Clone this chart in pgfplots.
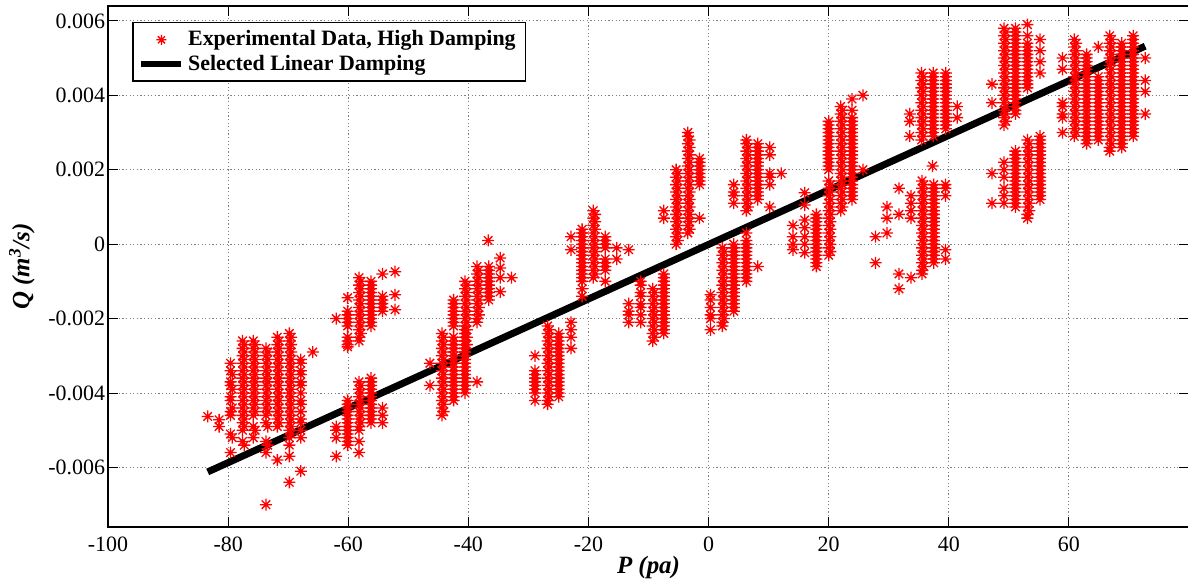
\documentclass[border=0pt]{standalone}
\usepackage{pgfplots}
\pgfplotsset{compat=1.18}
\usepackage{fontspec}
\setmainfont{Liberation Serif}
\pgfdeclareplotmark{mstar}{%
  \pgfpathmoveto{\pgfqpoint{-\pgfplotmarksize}{0pt}}\pgfpathlineto{\pgfqpoint{\pgfplotmarksize}{0pt}}%
  \pgfpathmoveto{\pgfqpoint{0pt}{-\pgfplotmarksize}}\pgfpathlineto{\pgfqpoint{0pt}{\pgfplotmarksize}}%
  \pgfpathmoveto{\pgfqpoint{-0.7071\pgfplotmarksize}{-0.7071\pgfplotmarksize}}\pgfpathlineto{\pgfqpoint{0.7071\pgfplotmarksize}{0.7071\pgfplotmarksize}}%
  \pgfpathmoveto{\pgfqpoint{-0.7071\pgfplotmarksize}{0.7071\pgfplotmarksize}}\pgfpathlineto{\pgfqpoint{0.7071\pgfplotmarksize}{-0.7071\pgfplotmarksize}}%
  \pgfusepathqstroke}
\begin{document}
\begin{tikzpicture}
\begin{axis}[name=ax, scale only axis, width=540.5bp, height=260.5bp,
  xmin=-100, xmax=80, ymin=-0.0076, ymax=0.0064,
  xtick={-100,-80,-60,-40,-20,0,20,40,60},
  xticklabels={-100,-80,-60,-40,-20,0,20,40,60},
  ytick={-0.006,-0.004,-0.002,0,0.002,0.004,0.006},
  yticklabels={-0.006,-0.004,-0.002,0,0.002,0.004,0.006},
  scaled y ticks=false, scaled x ticks=false,
  tick align=inside, major tick length=5bp,
  tick style={black, line width=0.5bp},
  grid=major, grid style={dash pattern=on 0.6bp off 1.2bp, black!50, line width=0.5bp},
  axis line style={line width=1bp},
  ticklabel style={font=\fontsize{11}{13}\selectfont},
  xticklabel style={yshift=-1.5bp},
  yticklabel style={xshift=2bp},
  xlabel={\textbf{\textit{P (pa)}}},
  ylabel={\textbf{\textit{Q (m\textsuperscript{3}/s)}}},
  every axis x label/.style={at={(axis description cs:0.5,-0.0768)}, anchor=center, font=\fontsize{12.5}{14}\selectfont},
  every axis y label/.style={at={(axis description cs:-0.0796,0.5)}, rotate=90, anchor=center, font=\fontsize{12.5}{14}\selectfont},
  legend cell align=left,
  legend style={at={(axis description cs:0.0222,0.9693)}, anchor=north west, draw=black, line width=0.75bp,
    font=\bfseries\fontsize{11}{13}\selectfont, row sep=-1bp, inner xsep=3bp, inner ysep=2bp},
]
\addplot[only marks, mark=mstar, mark size=3bp, red, line width=0.65bp,
  legend image code/.code={\draw[mark repeat=2,mark phase=2,mark size=2.5bp] plot coordinates {(0bp,0bp) (10bp,0bp) (20bp,0bp)};}]
coordinates {
(-83.4,-0.00463) (-81.5,-0.00472) (-81.5,-0.0049) (-65.9,-0.0029)
(-79.6,-0.0032) (-79.6,-0.0034) (-79.3,-0.0035) (-79.6,-0.0037) (-79.6,-0.0038) (-79.3,-0.0039) (-79.6,-0.0041) (-79.6,-0.0042) (-79.3,-0.0044) (-79.6,-0.0045) (-79.6,-0.0046) (-79.6,-0.0051) (-79.3,-0.0052) (-79.6,-0.0056)
(-77.6,-0.0026) (-77.3,-0.0027) (-77.6,-0.0028) (-77.3,-0.0029) (-77.6,-0.0030) (-77.3,-0.0031) (-77.6,-0.0032) (-77.3,-0.0033) (-77.6,-0.0034) (-77.3,-0.0035) (-77.6,-0.0036) (-77.3,-0.0037) (-77.6,-0.0038) (-77.3,-0.0039) (-77.6,-0.0040) (-77.3,-0.0041) (-77.6,-0.0042) (-77.3,-0.0043) (-77.6,-0.0044) (-77.3,-0.0045) (-77.6,-0.0046) (-77.3,-0.0047) (-77.6,-0.0048) (-77.3,-0.0049) (-77.6,-0.0050) (-77.6,-0.0053) (-77.3,-0.0054)
(-75.8,-0.0026) (-75.5,-0.0027) (-75.8,-0.0028) (-75.5,-0.0029) (-75.8,-0.0030) (-75.5,-0.0031) (-75.8,-0.0032) (-75.5,-0.0033) (-75.8,-0.0034) (-75.5,-0.0035) (-75.8,-0.0036) (-75.5,-0.0037) (-75.8,-0.0038) (-75.5,-0.0039) (-75.8,-0.0040) (-75.5,-0.0041) (-75.8,-0.0042) (-75.5,-0.0043) (-75.8,-0.0044) (-75.5,-0.0045) (-75.8,-0.0046) (-75.8,-0.0049) (-75.5,-0.0050) (-75.8,-0.0052)
(-73.7,-0.0028) (-73.4,-0.0029) (-73.7,-0.0030) (-73.4,-0.0031) (-73.7,-0.0032) (-73.4,-0.0033) (-73.7,-0.0034) (-73.4,-0.0035) (-73.7,-0.0036) (-73.4,-0.0037) (-73.7,-0.0038) (-73.4,-0.0039) (-73.7,-0.0040) (-73.4,-0.0041) (-73.7,-0.0042) (-73.4,-0.0043) (-73.7,-0.0044) (-73.4,-0.0045) (-73.7,-0.0046) (-73.7,-0.0048) (-73.4,-0.0049) (-73.7,-0.0053) (-73.4,-0.0054) (-73.7,-0.0056) (-73.7,-0.0070)
(-71.8,-0.0025) (-71.5,-0.0026) (-71.8,-0.0027) (-71.5,-0.0028) (-71.8,-0.0029) (-71.5,-0.0030) (-71.8,-0.0031) (-71.5,-0.0032) (-71.8,-0.0033) (-71.5,-0.0034) (-71.8,-0.0035) (-71.5,-0.0036) (-71.8,-0.0037) (-71.5,-0.0038) (-71.8,-0.0039) (-71.5,-0.0040) (-71.8,-0.0041) (-71.5,-0.0042) (-71.8,-0.0043) (-71.5,-0.0044) (-71.8,-0.0045) (-71.5,-0.0046) (-71.8,-0.0047) (-71.5,-0.0048) (-71.8,-0.0049) (-71.8,-0.0058)
(-69.8,-0.0024) (-69.5,-0.0025) (-69.8,-0.0026) (-69.5,-0.0027) (-69.8,-0.0028) (-69.5,-0.0029) (-69.8,-0.0030) (-69.5,-0.0031) (-69.8,-0.0032) (-69.5,-0.0033) (-69.8,-0.0034) (-69.5,-0.0035) (-69.8,-0.0036) (-69.5,-0.0037) (-69.8,-0.0038) (-69.5,-0.0039) (-69.8,-0.0040) (-69.5,-0.0041) (-69.8,-0.0042) (-69.5,-0.0043) (-69.8,-0.0044) (-69.5,-0.0045) (-69.8,-0.0046) (-69.5,-0.0047) (-69.8,-0.0048) (-69.5,-0.0049) (-69.8,-0.0050) (-69.5,-0.0051) (-69.8,-0.0052) (-69.8,-0.0054) (-69.8,-0.0057) (-69.8,-0.0064)
(-67.9,-0.0031) (-67.9,-0.0032) (-67.9,-0.0034) (-67.9,-0.0035) (-67.9,-0.0037) (-67.9,-0.0038) (-67.9,-0.0040) (-67.9,-0.0042) (-67.9,-0.0043) (-67.9,-0.0045) (-67.9,-0.0047) (-67.9,-0.0048) (-67.9,-0.0050) (-67.9,-0.0052) (-67.9,-0.0061)
(-62.0,-0.0020) (-60.1,-0.00144) (-60.1,-0.0018) (-60.1,-0.0019) (-60.1,-0.0020) (-60.1,-0.0021) (-60.1,-0.0022) (-60.1,-0.0025) (-60.1,-0.0026) (-60.1,-0.0027) (-60.1,-0.00276)
(-58.2,-0.0009) (-57.9,-0.0010) (-58.2,-0.0011) (-57.9,-0.0012) (-58.2,-0.0013) (-57.9,-0.0014) (-58.2,-0.0015) (-57.9,-0.0016) (-58.2,-0.0017) (-57.9,-0.0018) (-58.2,-0.0019) (-57.9,-0.0020) (-58.2,-0.0021) (-57.9,-0.0022) (-58.2,-0.0023) (-57.9,-0.0024) (-58.2,-0.0025) (-58.2,-0.0026)
(-56.2,-0.0010) (-56.2,-0.0011) (-56.2,-0.0012) (-56.2,-0.0013) (-56.2,-0.0014) (-56.2,-0.0015) (-56.2,-0.0016) (-56.2,-0.0017) (-56.2,-0.0018) (-56.2,-0.0019) (-56.2,-0.0020) (-56.2,-0.0021) (-56.2,-0.0022)
(-54.3,-0.0008) (-54.3,-0.0014) (-54.3,-0.0015) (-54.3,-0.0016) (-54.3,-0.0017) (-54.3,-0.0018) (-52.2,-0.00074) (-52.2,-0.00136) (-52.2,-0.00176)
(-62.0,-0.0049) (-62.0,-0.0050) (-62.0,-0.0052) (-62.0,-0.0057)
(-60.1,-0.0042) (-60.1,-0.0043) (-60.1,-0.0044) (-60.1,-0.0045) (-60.1,-0.0046) (-60.1,-0.0047) (-60.1,-0.0048) (-60.1,-0.0049) (-60.1,-0.0050) (-60.1,-0.0051) (-60.1,-0.0052) (-60.1,-0.0053) (-60.1,-0.0054)
(-58.2,-0.0037) (-57.9,-0.0038) (-58.2,-0.0039) (-57.9,-0.0040) (-58.2,-0.0041) (-57.9,-0.0042) (-58.2,-0.0043) (-57.9,-0.0044) (-58.2,-0.0045) (-57.9,-0.0046) (-58.2,-0.0047) (-57.9,-0.0048) (-58.2,-0.0049) (-58.2,-0.0050) (-58.2,-0.0053) (-58.2,-0.0056)
(-56.2,-0.0036) (-56.2,-0.0037) (-56.2,-0.0038) (-56.2,-0.0039) (-56.2,-0.0040) (-56.2,-0.0041) (-56.2,-0.0042) (-56.2,-0.0043) (-56.2,-0.0044) (-56.2,-0.0045) (-56.2,-0.0046) (-56.2,-0.0047) (-56.2,-0.0048)
(-54.3,-0.0044) (-54.3,-0.0046) (-54.3,-0.0048)
(-42.45,-0.0015) (-42.45,-0.0016) (-42.45,-0.0017) (-42.45,-0.0018) (-42.45,-0.0019) (-42.45,-0.0020) (-42.45,-0.0021) (-42.45,-0.0022)
(-40.55,-0.0010) (-40.25,-0.0011) (-40.55,-0.0012) (-40.25,-0.0013) (-40.55,-0.0014) (-40.25,-0.0015) (-40.55,-0.0016) (-40.25,-0.0017) (-40.55,-0.0018) (-40.25,-0.0019) (-40.55,-0.0020) (-40.25,-0.0021) (-40.55,-0.0022) (-40.25,-0.0023) (-40.55,-0.0024) (-40.25,-0.0025) (-40.55,-0.0026) (-40.25,-0.0027) (-40.55,-0.0028) (-40.55,-0.0029)
(-38.55,-0.0006) (-38.25,-0.0007) (-38.55,-0.0008) (-38.25,-0.0009) (-38.55,-0.0010) (-38.25,-0.0011) (-38.55,-0.0012) (-38.25,-0.0013) (-38.55,-0.0014) (-38.25,-0.0015) (-38.55,-0.0016) (-38.25,-0.0017) (-38.55,-0.0018) (-38.25,-0.0019) (-38.55,-0.0020) (-38.55,-0.0021)
(-36.6,-0.0006) (-36.6,-0.0007) (-36.6,-0.0008) (-36.6,-0.0009) (-36.6,-0.0010) (-36.6,-0.0011) (-36.6,-0.0012) (-36.6,-0.0013) (-36.6,-0.0014) (-36.6,-0.0015) (-36.7,0.0001)
(-34.7,-0.00037) (-34.7,-0.00064) (-34.7,-0.0009) (-34.7,-0.00128) (-32.8,-0.0009)
(-46.4,-0.0032) (-46.4,-0.0038)
(-44.4,-0.0024) (-44.1,-0.0025) (-44.4,-0.0026) (-44.1,-0.0027) (-44.4,-0.0028) (-44.1,-0.0029) (-44.4,-0.0030) (-44.1,-0.0031) (-44.4,-0.0032) (-44.1,-0.0033) (-44.4,-0.0034) (-44.1,-0.0035) (-44.4,-0.0036) (-44.1,-0.0037) (-44.4,-0.0038) (-44.1,-0.0039) (-44.4,-0.0040) (-44.1,-0.0041) (-44.4,-0.0042) (-44.1,-0.0043) (-44.4,-0.0044) (-44.1,-0.0045) (-44.4,-0.0046)
(-42.45,-0.0025) (-42.45,-0.0026) (-42.45,-0.0027) (-42.45,-0.0028) (-42.45,-0.0029) (-42.45,-0.0030) (-42.45,-0.0031) (-42.45,-0.0032) (-42.45,-0.0033) (-42.45,-0.0034) (-42.45,-0.0035) (-42.45,-0.0036) (-42.45,-0.0037) (-42.45,-0.0038) (-42.45,-0.0039) (-42.45,-0.0040) (-42.45,-0.0041) (-42.45,-0.0042)
(-40.55,-0.0023) (-40.55,-0.0024) (-40.55,-0.0025) (-40.55,-0.0026) (-40.55,-0.0027) (-40.55,-0.0028) (-40.55,-0.0029) (-40.55,-0.0030) (-40.55,-0.0031) (-40.55,-0.0032) (-40.55,-0.0033) (-40.55,-0.0034) (-40.55,-0.0035) (-40.55,-0.0036) (-40.55,-0.0037) (-40.55,-0.0038) (-40.55,-0.0039) (-40.55,-0.0040)
(-38.55,-0.0037)
(-28.9,-0.0030) (-28.9,-0.0034) (-28.9,-0.0035) (-28.9,-0.0036) (-28.9,-0.0037) (-28.9,-0.0038) (-28.9,-0.0039) (-28.9,-0.0040) (-28.9,-0.0042)
(-26.8,-0.0022) (-26.5,-0.0023) (-26.8,-0.0024) (-26.5,-0.0025) (-26.8,-0.0026) (-26.5,-0.0027) (-26.8,-0.0028) (-26.5,-0.0029) (-26.8,-0.0030) (-26.5,-0.0031) (-26.8,-0.0032) (-26.5,-0.0033) (-26.8,-0.0034) (-26.5,-0.0035) (-26.8,-0.0036) (-26.5,-0.0037) (-26.8,-0.0038) (-26.5,-0.0039) (-26.8,-0.0040) (-26.5,-0.0041) (-26.8,-0.0042) (-26.8,-0.0043)
(-24.95,-0.0024) (-24.95,-0.0025) (-24.95,-0.0026) (-24.95,-0.0027) (-24.95,-0.0028) (-24.95,-0.0029) (-24.95,-0.0030) (-24.95,-0.0031) (-24.95,-0.0032) (-24.95,-0.0033) (-24.95,-0.0034) (-24.95,-0.0035) (-24.95,-0.0036) (-24.95,-0.0037) (-24.95,-0.0038) (-24.95,-0.0039) (-24.95,-0.0040) (-24.95,-0.0041)
(-22.9,-0.0021) (-22.9,-0.0023) (-22.9,-0.0025) (-22.9,-0.0028)
(-22.9,0.0002) (-22.9,-0.00015)
(-21.05,0.0004) (-21.05,0.0003) (-21.05,0.0002) (-21.05,0.0001) (-21.05,0.0000) (-21.05,-0.0001) (-21.05,-0.0002) (-21.05,-0.0003) (-21.05,-0.0004) (-21.05,-0.0005) (-21.05,-0.0006) (-21.05,-0.0007) (-21.05,-0.0008) (-21.05,-0.0009) (-21.05,-0.0010) (-21.05,-0.0012) (-21.05,-0.0014)
(-19.2,0.0009) (-18.9,0.0008) (-19.2,0.0007) (-18.9,0.0006) (-19.2,0.0005) (-18.9,0.0004) (-19.2,0.0003) (-18.9,0.0002) (-19.2,0.0001) (-18.9,0.0000) (-19.2,-0.0001) (-18.9,-0.0002) (-19.2,-0.0003) (-18.9,-0.0004) (-19.2,-0.0005) (-18.9,-0.0006) (-19.2,-0.0007) (-18.9,-0.0008) (-19.2,-0.0009)
(-17.2,0.0002) (-17.2,0.0001) (-17.2,0.0000) (-17.2,-0.0001) (-17.2,-0.0004) (-17.2,-0.0005) (-17.2,-0.0006) (-17.2,-0.0007) (-17.2,-0.0010)
(-15.3,-0.0001) (-15.3,-0.0004) (-13.3,-0.00015)
(-13.3,-0.0016) (-13.3,-0.0018) (-13.3,-0.0019) (-13.3,-0.0021)
(-11.3,-0.0010) (-11.3,-0.0011) (-11.3,-0.0013) (-11.3,-0.0014) (-11.3,-0.0016) (-11.3,-0.0017) (-11.3,-0.0019) (-11.3,-0.0021)
(-9.3,-0.0012) (-9.0,-0.0013) (-9.3,-0.0014) (-9.0,-0.0015) (-9.3,-0.0016) (-9.0,-0.0017) (-9.3,-0.0018) (-9.0,-0.0019) (-9.3,-0.0020) (-9.0,-0.0021) (-9.3,-0.0022) (-9.0,-0.0023) (-9.3,-0.0024) (-9.0,-0.0025) (-9.3,-0.0026)
(-7.45,-0.0008) (-7.45,-0.0009) (-7.45,-0.0010) (-7.45,-0.0011) (-7.45,-0.0012) (-7.45,-0.0013) (-7.45,-0.0014) (-7.45,-0.0015) (-7.45,-0.0016) (-7.45,-0.0017) (-7.45,-0.0018) (-7.45,-0.0019) (-7.45,-0.0020) (-7.45,-0.0021) (-7.45,-0.0022) (-7.45,-0.0023) (-7.45,-0.0024)
(-7.45,0.0007) (-7.45,0.0009)
(-5.4,0.0000) (-5.1,0.0001) (-5.4,0.0002) (-5.1,0.0003) (-5.4,0.0004) (-5.1,0.0005) (-5.4,0.0006) (-5.1,0.0007) (-5.4,0.0008) (-5.1,0.0009) (-5.4,0.0010) (-5.1,0.0011) (-5.4,0.0012) (-5.1,0.0013) (-5.4,0.0014) (-5.1,0.0015) (-5.4,0.0016) (-5.1,0.0017) (-5.4,0.0018) (-5.1,0.0019) (-5.4,0.0020)
(-3.45,0.0003) (-3.15,0.0004) (-3.45,0.0005) (-3.15,0.0006) (-3.45,0.0007) (-3.15,0.0008) (-3.45,0.0009) (-3.15,0.0010) (-3.45,0.0011) (-3.15,0.0012) (-3.45,0.0013) (-3.15,0.0014) (-3.45,0.0015) (-3.15,0.0016) (-3.45,0.0017) (-3.15,0.0018) (-3.45,0.0019) (-3.15,0.0020) (-3.45,0.0021) (-3.15,0.0022) (-3.45,0.0023) (-3.15,0.0024) (-3.45,0.0025) (-3.15,0.0026) (-3.45,0.0027) (-3.15,0.0028) (-3.45,0.0029) (-3.45,0.0030)
(-1.5,0.0016) (-1.5,0.0017) (-1.5,0.0018) (-1.5,0.0019) (-1.5,0.0020) (-1.5,0.0021) (-1.5,0.0022) (-1.5,0.0023) (-1.5,0.0007)
(0.33,-0.00136) (0.33,-0.0015) (0.33,-0.0017) (0.33,-0.0019) (0.33,-0.0020) (0.33,-0.0023)
(2.3,-0.0001) (2.6,-0.0002) (2.3,-0.0003) (2.6,-0.0004) (2.3,-0.0005) (2.6,-0.0006) (2.3,-0.0007) (2.6,-0.0008) (2.3,-0.0009) (2.6,-0.0010) (2.3,-0.0011) (2.6,-0.0012) (2.3,-0.0013) (2.6,-0.0014) (2.3,-0.0015) (2.6,-0.0016) (2.3,-0.0017) (2.6,-0.0018) (2.3,-0.0019) (2.6,-0.0020) (2.3,-0.0021) (2.3,-0.0022)
(4.2,0.0000) (4.2,-0.0001) (4.2,-0.0002) (4.2,-0.0003) (4.2,-0.0004) (4.2,-0.0005) (4.2,-0.0006) (4.2,-0.0007) (4.2,-0.0008) (4.2,-0.0009) (4.2,-0.0010) (4.2,-0.0011) (4.2,-0.0012) (4.2,-0.0013) (4.2,-0.0014) (4.2,-0.0015) (4.2,-0.0016) (4.2,-0.0017) (4.2,-0.0018)
(6.3,0.0003) (6.3,0.0001) (6.3,0.0000) (6.3,-0.0001) (6.3,-0.0002) (6.3,-0.0003) (6.3,-0.0004) (6.3,-0.0005) (6.3,-0.0006) (6.3,-0.0007) (6.3,-0.0008) (6.3,-0.0009) (6.3,-0.0010)
(8.2,-0.0006)
(4.2,0.0011) (4.2,0.0013) (4.2,0.0014) (4.2,0.0016)
(6.3,0.0009) (6.6,0.0010) (6.3,0.0011) (6.6,0.0012) (6.3,0.0013) (6.6,0.0014) (6.3,0.0015) (6.6,0.0016) (6.3,0.0017) (6.6,0.0018) (6.3,0.0019) (6.6,0.0020) (6.3,0.0021) (6.6,0.0022) (6.3,0.0023) (6.6,0.0024) (6.3,0.0025) (6.6,0.0026) (6.3,0.0027) (6.3,0.0028)
(8.2,0.0012) (8.2,0.0013) (8.2,0.0014) (8.2,0.0015) (8.2,0.0016) (8.2,0.0017) (8.2,0.0018) (8.2,0.0019) (8.2,0.0020) (8.2,0.0021) (8.2,0.0022) (8.2,0.0023) (8.2,0.0024) (8.2,0.0025) (8.2,0.0026) (8.2,0.0027)
(10.2,0.0010) (10.2,0.0016) (10.2,0.0018) (10.2,0.0019) (10.2,0.0024) (10.2,0.0026) (12.1,0.0019)
(14.05,0.0005) (14.05,0.0002) (14.05,0.0000) (14.05,-0.00015)
(16.0,0.00138) (16.0,0.00105) (16.0,0.00065) (16.0,0.00044) (16.0,0.0002) (16.0,0.0000) (16.0,-0.00023)
(17.95,0.0008) (17.95,0.0007) (17.95,0.0006) (17.95,0.0005) (17.95,0.0004) (17.95,0.0003) (17.95,0.0002) (17.95,0.0001) (17.95,0.0000) (17.95,-0.0001) (17.95,-0.0002) (17.95,-0.0003) (17.95,-0.0004) (17.95,-0.0005) (17.95,-0.0006)
(20.0,0.0017) (20.3,0.0016) (20.0,0.0015) (20.3,0.0014) (20.0,0.0013) (20.3,0.0012) (20.0,0.0011) (20.3,0.0010) (20.0,0.0009) (20.3,0.0008) (20.0,0.0007) (20.3,0.0006) (20.0,0.0005) (20.3,0.0004) (20.0,0.0003) (20.3,0.0002) (20.0,0.0001) (20.3,0.0000) (20.0,-0.0001) (20.3,-0.0002) (20.0,-0.0003)
(20.0,0.0020) (20.0,0.0021) (20.0,0.0022) (20.0,0.0023) (20.0,0.0024) (20.0,0.0025) (20.0,0.0026) (20.0,0.0027) (20.0,0.0028) (20.0,0.0029) (20.0,0.0030) (20.0,0.0031) (20.0,0.0032) (20.0,0.0033)
(22.0,0.0009) (22.3,0.0010) (22.0,0.0011) (22.3,0.0012) (22.0,0.0013) (22.3,0.0014) (22.0,0.0015) (22.3,0.0016) (22.0,0.0017) (22.3,0.0018) (22.0,0.0019) (22.3,0.0020) (22.0,0.0021) (22.3,0.0022) (22.0,0.0023) (22.3,0.0024) (22.0,0.0025) (22.3,0.0026) (22.0,0.0027) (22.3,0.0028) (22.0,0.0029) (22.3,0.0030) (22.0,0.0031) (22.3,0.0032) (22.0,0.0033) (22.3,0.0034) (22.0,0.0035) (22.3,0.0036) (22.0,0.0037)
(23.9,0.0012) (23.9,0.0013) (23.9,0.0014) (23.9,0.0015) (23.9,0.0016) (23.9,0.0017) (23.9,0.0018) (23.9,0.0019) (23.9,0.0020) (23.9,0.0021) (23.9,0.0022) (23.9,0.0023) (23.9,0.0024) (23.9,0.0025) (23.9,0.0026) (23.9,0.0027) (23.9,0.0028) (23.9,0.0029) (23.9,0.0030) (23.9,0.0031) (23.9,0.0032) (23.9,0.0033) (23.9,0.0034) (23.9,0.0036) (23.9,0.0039)
(25.7,0.0040) (25.7,0.0020)
(27.8,0.0002) (27.8,-0.0005) (29.7,0.0010) (29.7,0.0007) (29.7,0.0003)
(31.7,0.0015) (31.7,0.0008) (31.7,-0.0008) (31.7,-0.0012)
(33.7,0.0013) (33.7,0.0011) (33.7,0.0009) (33.7,0.0007) (33.7,-0.0009)
(35.55,0.0017) (35.85,0.0016) (35.55,0.0015) (35.85,0.0014) (35.55,0.0013) (35.85,0.0012) (35.55,0.0011) (35.85,0.0010) (35.55,0.0009) (35.85,0.0008) (35.55,0.0007) (35.85,0.0006) (35.55,0.0005) (35.85,0.0004) (35.55,0.0003) (35.85,0.0002) (35.55,0.0001) (35.85,0.0000) (35.55,-0.0001) (35.85,-0.0002) (35.55,-0.0003) (35.85,-0.0004) (35.55,-0.0005) (35.85,-0.0006) (35.55,-0.0007) (35.55,-0.0008)
(37.5,0.0016) (37.5,0.0015) (37.5,0.0014) (37.5,0.0013) (37.5,0.0012) (37.5,0.0011) (37.5,0.0010) (37.5,0.0009) (37.5,0.0008) (37.5,0.0007) (37.5,0.0006) (37.5,0.0005) (37.5,0.0004) (37.5,0.0003) (37.5,0.0002) (37.5,0.0001) (37.5,0.0000) (37.5,-0.0001) (37.5,-0.0002) (37.5,-0.0003) (37.5,-0.0004) (37.5,-0.0005)
(39.45,0.0016) (39.45,0.0015) (39.45,0.0013) (39.45,-0.00015) (39.45,-0.0004)
(33.5,0.0035) (33.5,0.0033) (33.5,0.0029)
(35.45,0.0046) (35.75,0.0045) (35.45,0.0044) (35.75,0.0043) (35.45,0.0042) (35.75,0.0041) (35.45,0.0040) (35.75,0.0039) (35.45,0.0038) (35.75,0.0037) (35.45,0.0036) (35.75,0.0035) (35.45,0.0034) (35.75,0.0033) (35.45,0.0032) (35.75,0.0031) (35.45,0.0030) (35.75,0.0029) (35.45,0.0028)
(37.4,0.0046) (37.4,0.0045) (37.4,0.0044) (37.4,0.0043) (37.4,0.0042) (37.4,0.0041) (37.4,0.0040) (37.4,0.0039) (37.4,0.0038) (37.4,0.0037) (37.4,0.0036) (37.4,0.0035) (37.4,0.0034) (37.4,0.0033) (37.4,0.0032) (37.4,0.0031) (37.4,0.0030) (37.4,0.0029) (37.3,0.0021)
(39.5,0.0046) (39.5,0.0045) (39.5,0.0044) (39.5,0.0043) (39.5,0.0042) (39.5,0.0041) (39.5,0.0040) (39.5,0.0039) (39.5,0.0038) (39.5,0.0037) (39.5,0.0036) (39.5,0.0035) (39.5,0.0034) (39.5,0.0033) (39.5,0.0032) (39.5,0.0031)
(41.4,0.0037) (41.4,0.0034)
(47.2,0.0043) (47.2,0.0038)
(49.2,0.0058) (49.5,0.0057) (49.2,0.0056) (49.5,0.0055) (49.2,0.0054) (49.5,0.0053) (49.2,0.0052) (49.5,0.0051) (49.2,0.0050) (49.5,0.0049) (49.2,0.0048) (49.5,0.0047) (49.2,0.0046) (49.5,0.0045) (49.2,0.0044) (49.5,0.0043) (49.2,0.0042) (49.5,0.0041) (49.2,0.0040) (49.5,0.0039) (49.2,0.0038) (49.5,0.0037) (49.2,0.0036) (49.5,0.0035) (49.2,0.0034) (49.5,0.0033) (49.2,0.0032)
(51.1,0.0058) (51.1,0.0057) (51.1,0.0056) (51.1,0.0055) (51.1,0.0054) (51.1,0.0053) (51.1,0.0052) (51.1,0.0051) (51.1,0.0050) (51.1,0.0049) (51.1,0.0048) (51.1,0.0047) (51.1,0.0046) (51.1,0.0045) (51.1,0.0044) (51.1,0.0043) (51.1,0.0042) (51.1,0.0041) (51.1,0.0040) (51.1,0.0039) (51.1,0.0038) (51.1,0.0037) (51.1,0.0036) (51.1,0.0035)
(53.1,0.0059) (53.1,0.0056) (53.1,0.0054) (53.1,0.0053) (53.1,0.0052) (53.1,0.0051) (53.1,0.0050) (53.1,0.0049) (53.1,0.0048) (53.1,0.0047) (53.1,0.0046) (53.1,0.0045) (53.1,0.0044) (53.1,0.0043) (53.1,0.0042)
(55.2,0.0055) (55.2,0.0052) (55.2,0.0049) (55.2,0.0046)
(47.2,0.0019) (47.2,0.0011)
(49.2,0.0022) (49.2,0.0020) (49.2,0.0018) (49.2,0.0015) (49.2,0.0013) (49.2,0.0011)
(51.1,0.0025) (51.1,0.0024) (51.1,0.0023) (51.1,0.0022) (51.1,0.0021) (51.1,0.0020) (51.1,0.0019) (51.1,0.0018) (51.1,0.0017) (51.1,0.0016) (51.1,0.0015) (51.1,0.0014) (51.1,0.0013) (51.1,0.0012) (51.1,0.0011) (51.1,0.0010)
(53.1,0.0028) (53.4,0.0027) (53.1,0.0026) (53.4,0.0025) (53.1,0.0024) (53.4,0.0023) (53.1,0.0022) (53.4,0.0021) (53.1,0.0020) (53.4,0.0019) (53.1,0.0018) (53.4,0.0017) (53.1,0.0016) (53.4,0.0015) (53.1,0.0014) (53.4,0.0013) (53.1,0.0012) (53.4,0.0011) (53.1,0.0010) (53.4,0.0009) (53.1,0.0008) (53.1,0.0007)
(55.2,0.0029) (55.2,0.0028) (55.2,0.0027) (55.2,0.0026) (55.2,0.0025) (55.2,0.0024) (55.2,0.0023) (55.2,0.0022) (55.2,0.0021) (55.2,0.0020) (55.2,0.0019) (55.2,0.0018) (55.2,0.0017) (55.2,0.0016) (55.2,0.0015) (55.2,0.0014) (55.2,0.0013) (55.2,0.0012)
(58.95,0.0050) (58.95,0.0047) (58.95,0.0038) (58.95,0.0037) (58.95,0.0035) (58.95,0.0034) (58.95,0.0030)
(60.9,0.0055) (61.2,0.0054) (60.9,0.0053) (61.2,0.0052) (60.9,0.0051) (61.2,0.0050) (60.9,0.0049) (61.2,0.0048) (60.9,0.0047) (61.2,0.0046) (60.9,0.0045) (61.2,0.0044) (60.9,0.0043) (61.2,0.0042) (60.9,0.0041) (61.2,0.0040) (60.9,0.0039) (61.2,0.0038) (60.9,0.0037) (61.2,0.0036) (60.9,0.0035) (61.2,0.0034) (60.9,0.0033) (61.2,0.0032) (60.9,0.0031) (61.2,0.0030) (60.9,0.0029)
(62.95,0.0051) (62.95,0.0050) (62.95,0.0049) (62.95,0.0048) (62.95,0.0047) (62.95,0.0046) (62.95,0.0045) (62.95,0.0044) (62.95,0.0043) (62.95,0.0042) (62.95,0.0041) (62.95,0.0040) (62.95,0.0039) (62.95,0.0038) (62.95,0.0037) (62.95,0.0036) (62.95,0.0035) (62.95,0.0034) (62.95,0.0033) (62.95,0.0032) (62.95,0.0031) (62.95,0.0030) (62.95,0.0029) (62.95,0.0028) (62.95,0.0027)
(64.9,0.0053) (64.9,0.0045) (64.9,0.0044) (64.9,0.0043) (64.9,0.0042) (64.9,0.0041) (64.9,0.0040) (64.9,0.0039) (64.9,0.0038) (64.9,0.0037) (64.9,0.0036) (64.9,0.0035) (64.9,0.0034) (64.9,0.0033) (64.9,0.0032) (64.9,0.0031) (64.9,0.0030) (64.9,0.0029) (64.9,0.0028)
(66.8,0.0056) (67.1,0.0055) (66.8,0.0054) (67.1,0.0053) (66.8,0.0052) (67.1,0.0051) (66.8,0.0050) (67.1,0.0049) (66.8,0.0048) (67.1,0.0047) (66.8,0.0046) (67.1,0.0045) (66.8,0.0044) (67.1,0.0043) (66.8,0.0042) (67.1,0.0041) (66.8,0.0040) (67.1,0.0039) (66.8,0.0038) (67.1,0.0037) (66.8,0.0036) (67.1,0.0035) (66.8,0.0034) (67.1,0.0033) (66.8,0.0032) (67.1,0.0031) (66.8,0.0030) (67.1,0.0029) (66.8,0.0028) (67.1,0.0027) (66.8,0.0026) (66.8,0.0025)
(68.8,0.0054) (68.8,0.0053) (68.8,0.0052) (68.8,0.0051) (68.8,0.0050) (68.8,0.0049) (68.8,0.0048) (68.8,0.0047) (68.8,0.0046) (68.8,0.0045) (68.8,0.0044) (68.8,0.0043) (68.8,0.0042) (68.8,0.0041) (68.8,0.0040) (68.8,0.0039) (68.8,0.0038) (68.8,0.0037) (68.8,0.0036) (68.8,0.0035) (68.8,0.0034) (68.8,0.0033) (68.8,0.0032) (68.8,0.0031) (68.8,0.0030) (68.8,0.0029) (68.8,0.0028) (68.8,0.0027) (68.8,0.0026)
(70.7,0.0056) (70.7,0.0055) (70.7,0.0054) (70.7,0.0053) (70.7,0.0052) (70.7,0.0051) (70.7,0.0050) (70.7,0.0049) (70.7,0.0048) (70.7,0.0047) (70.7,0.0046) (70.7,0.0045) (70.7,0.0044) (70.7,0.0043) (70.7,0.0042) (70.7,0.0041) (70.7,0.0040) (70.7,0.0039) (70.7,0.0038) (70.7,0.0037) (70.7,0.0036) (70.7,0.0035) (70.7,0.0034) (70.7,0.0033) (70.7,0.0032) (70.7,0.0031) (70.7,0.0030) (70.7,0.0029)
(72.7,0.0050) (72.7,0.0044) (72.7,0.0041) (72.7,0.0035)
};
\addlegendentry{Experimental Data, High Damping}
\addplot[black, line width=3.5bp,
  legend image code/.code={\draw[line width=2.7bp] (0bp,0bp) -- (20bp,0bp);}]
coordinates {(-83.4,-0.00612) (72.7,0.00532)};
\addlegendentry{Selected Linear Damping}
\end{axis}
\pgfresetboundingbox
\path[use as bounding box] ([shift={(-54bp,-30.5bp)}]ax.south west) rectangle ([shift={(-0.5bp,3bp)}]ax.north east);
\end{tikzpicture}
\end{document}
